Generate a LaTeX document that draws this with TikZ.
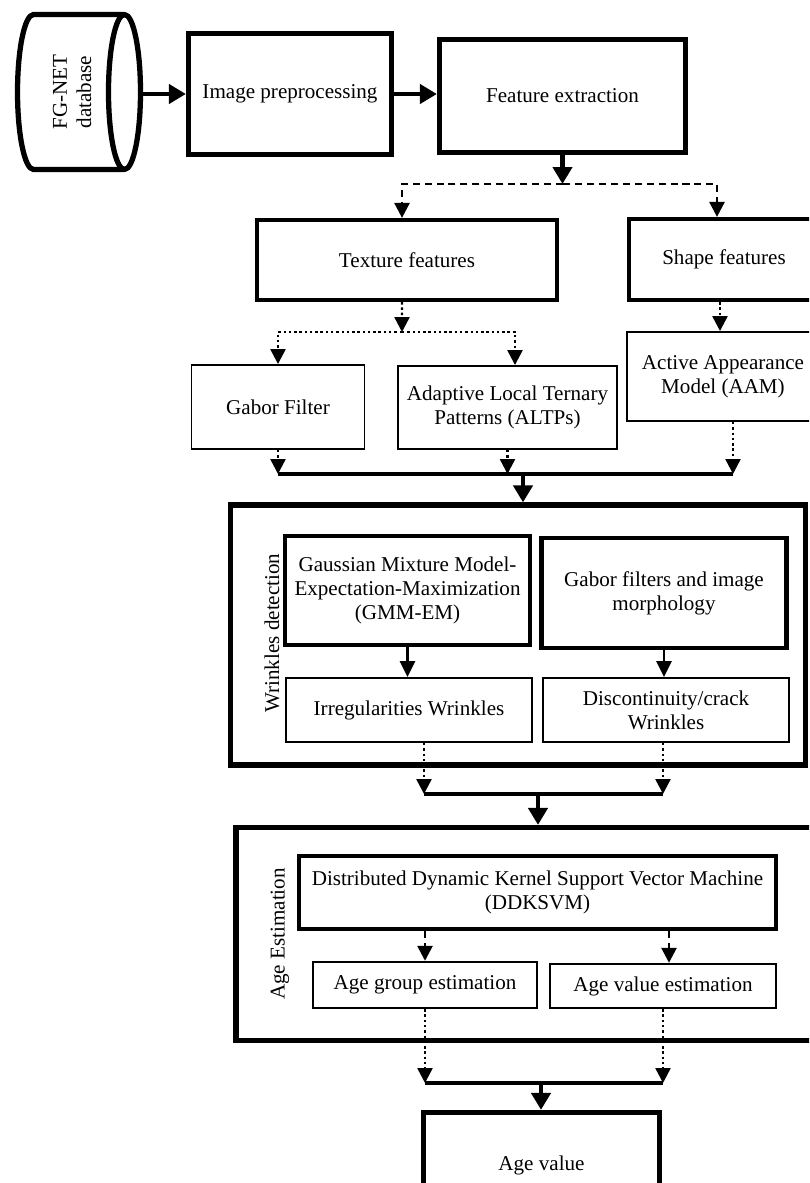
\documentclass[tikz,border=0pt]{standalone}
\usepackage{fontspec}
\setmainfont{Liberation Serif}
\usetikzlibrary{arrows.meta, positioning}

\begin{document}
\begin{tikzpicture}[
  x=0.02cm, y=-0.02cm,
  font=\fontsize{12}{13.8}\selectfont,
  heavy/.style={rectangle, draw, line width=3pt, align=center, inner sep=2pt},
  medium/.style={rectangle, draw, line width=2.4pt, align=center, inner sep=2pt},
  light/.style={rectangle, draw, line width=1.1pt, align=center, inner sep=2pt},
  dbline/.style={line width=3pt, line join=round},
  bigarr/.style={-{Triangle[length=0.34cm, width=0.38cm]}, line width=2.8pt},
  dasharr/.style={-{Triangle[length=0.3cm, width=0.3cm]}, line width=1.5pt,
                  dash pattern=on 4pt off 2.8pt},
  dotarr/.style={-{Triangle[length=0.3cm, width=0.3cm]}, line width=1.4pt,
                 dash pattern=on 1.4pt off 1.6pt},
  solarr/.style={-{Triangle[length=0.32cm, width=0.3cm]}, line width=1.6pt},
  busln/.style={line width=2.8pt},
]
  \useasboundingbox (0,0) rectangle (809,1183);
  \clip (0,0) rectangle (809,1183);

  % top row
  \node[minimum width=1.82cm, minimum height=3.1cm, inner sep=0pt, outer sep=0pt] (db) at (79,92) {};
  \draw[dbline] (db.north east) -- (db.north west)
    arc[start angle=90, end angle=270, x radius=0.32cm, y radius=1.55cm]
    -- (db.south east);
  \draw[dbline] (db.east) ellipse[x radius=0.32cm, y radius=1.55cm];
  \node[rotate=90, align=center] (dbtxt) at (72,92) {FG-NET\\database};
  \node[heavy, minimum width=4.06cm, minimum height=2.43cm] (prep) at (290,94) {Image preprocessing};
  \node[heavy, minimum width=4.92cm, minimum height=2.26cm] (feat) at (562.5,96) {Feature extraction};

  \draw[bigarr] ([xshift=0.37cm]db.east |- prep.west) -- (prep.west);
  \draw[bigarr] (prep.east) -- (prep.east -| feat.west);

  % feature types
  \node[medium, minimum width=5.99cm, minimum height=1.6cm] (tex) at (407,260) {Texture features};
  \node[medium, minimum width=3.8cm, minimum height=1.62cm] (shape) at (724,259.5) {Shape features};
  \node[light, minimum width=3.46cm, minimum height=1.68cm] (gabor) at (278,407) {Gabor Filter};
  \node[light, minimum width=4.38cm, minimum height=1.66cm] (altp) at (507.5,407.5)
    {Adaptive Local Ternary\\Patterns (ALTPs)};
  \node[light, minimum width=3.84cm, minimum height=1.78cm] (aam) at (723,376.5)
    {Active Appearance\\Model (AAM)};

  \coordinate (fsplit) at (563,184);
  \coordinate (tsplit) at (402,332);
  \coordinate (bus1) at (523,474);

  \draw[bigarr] (feat.south) -- (feat.south |- fsplit);
  \draw[dasharr] (fsplit) -| ([xshift=-0.1cm]tex.north);
  \draw[dasharr] (fsplit) -| ([xshift=-0.14cm]shape.north);
  \draw[dotarr] ([xshift=-0.1cm]tex.south) -- (tsplit);
  \draw[dotarr] (tsplit) -| (gabor.north);
  \draw[dotarr] (tsplit) -| ([xshift=0.15cm]altp.north);
  \draw[dotarr] ([xshift=-0.08cm]shape.south) -- ([xshift=-0.08cm]shape.south |- aam.north);

  \draw[dotarr] (gabor.south) -- (gabor.south |- bus1);
  \draw[dotarr] (altp.south) -- (altp.south |- bus1);
  \draw[dotarr] ([xshift=0.2cm]aam.south) -- ([xshift=0.2cm]aam.south |- bus1);
  \draw[busln] (gabor.south |- bus1) -- ([xshift=0.2cm]aam.south |- bus1);

  % wrinkles detection
  \node[heavy, minimum width=11.5cm, minimum height=5.2cm] (wrink) at (518,635) {};
  \node[rotate=90] (wrinktxt) at (272,633) {Wrinkles detection};
  \node[medium, minimum width=4.9cm, minimum height=2.18cm] (gmm) at (407.5,590.5)
    {Gaussian Mixture Model-\\Expectation-Maximization\\(GMM-EM)};
  \node[medium, minimum width=4.9cm, minimum height=2.19cm] (morph) at (664,593)
    {Gabor filters and image\\morphology};
  \node[light, minimum width=4.91cm, minimum height=1.28cm] (irreg) at (409,710)
    {Irregularities Wrinkles};
  \node[light, minimum width=4.91cm, minimum height=1.28cm] (disc) at (666,710)
    {Discontinuity/crack\\Wrinkles};

  \coordinate (bus2) at (538,794);

  \draw[bigarr] (bus1) -- (bus1 |- wrink.north);
  \draw[solarr] (gmm.south) -- (gmm.south |- irreg.north);
  \draw[solarr] (morph.south) -- (morph.south |- disc.north);
  \draw[dotarr] ([xshift=0.3cm]irreg.south) -- ([xshift=0.3cm]irreg.south |- bus2);
  \draw[dotarr] ([xshift=-0.06cm]disc.south) -- ([xshift=-0.06cm]disc.south |- bus2);
  \draw[busln] ([xshift=0.3cm]irreg.south |- bus2) -- ([xshift=-0.06cm]disc.south |- bus2);

  % age estimation
  \node[heavy, minimum width=12.04cm, minimum height=4.26cm] (agest) at (537,934) {};
  \node[rotate=90] (agesttxt) at (280,934) {Age Estimation};
  \node[medium, minimum width=9.54cm, minimum height=1.46cm] (svm) at (537.5,892.5)
    {Distributed Dynamic Kernel Support Vector Machine\\(DDKSVM)};
  \node[light, minimum width=4.49cm, minimum height=0.93cm] (agegrp) at (425,985)
    {Age group estimation};
  \node[light, minimum width=4.52cm, minimum height=0.89cm] (ageval) at (663,986)
    {Age value estimation};
  \node[heavy, minimum width=4.72cm, minimum height=2.1cm] (result) at (541.5,1165) {Age value};

  \coordinate (bus3) at (541,1083);

  \draw[bigarr] (bus2) -- (bus2 |- agest.north);
  \draw[dasharr] (svm.south -| agegrp.north) -- (agegrp.north);
  \draw[dasharr] ([xshift=0.12cm]ageval.north |- svm.south) -- ([xshift=0.12cm]ageval.north);
  \draw[dotarr] (agegrp.south) -- (agegrp.south |- bus3);
  \draw[dotarr] (ageval.south) -- (ageval.south |- bus3);
  \draw[busln] (agegrp.south |- bus3) -- (ageval.south |- bus3);
  \draw[bigarr] (bus3) -- (bus3 |- result.north);
\end{tikzpicture}
\end{document}
